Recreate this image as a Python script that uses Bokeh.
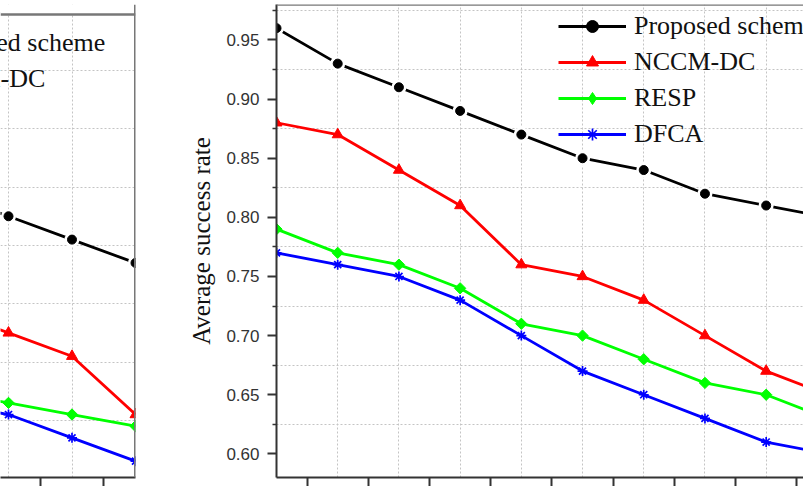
from bokeh.plotting import figure
from bokeh.layouts import row
from bokeh.models import (FixedTicker, Range1d, Span, Legend, LegendItem,
                          BoxAnnotation, CustomLabelingPolicy)
from bokeh.embed import file_html
from bokeh.resources import INLINE

# ---------------- data ----------------
# right panel
rounds = [1, 2, 3, 4, 5, 6, 7, 8, 9, 10]
proposed = [0.96, 0.93, 0.91, 0.89, 0.87, 0.85, 0.84, 0.82, 0.81, 0.80]
nccm_dc = [0.88, 0.87, 0.84, 0.81, 0.76, 0.75, 0.73, 0.70, 0.67, 0.65]
resp = [0.79, 0.77, 0.76, 0.74, 0.71, 0.70, 0.68, 0.66, 0.65, 0.63]
dfca = [0.77, 0.76, 0.75, 0.73, 0.70, 0.67, 0.65, 0.63, 0.61, 0.60]

# left panel (only its right end is visible)
left_rounds = [7, 8, 9, 10]
left_proposed = [0.82, 0.80, 0.78, 0.76]
left_nccm_dc = [0.72, 0.70, 0.68, 0.63]
left_resp = [0.65, 0.64, 0.63, 0.62]
left_dfca = [0.64, 0.63, 0.61, 0.59]

series_names = ["Proposed scheme", "NCCM-DC", "RESP", "DFCA"]
y_ticks = [0.60, 0.65, 0.70, 0.75, 0.80, 0.85, 0.90, 0.95]
y_tick_labels = ["0.60", "0.65", "0.70", "0.75", "0.80", "0.85", "0.90", "0.95"]
y_grid = [0.625, 0.675, 0.725, 0.775, 0.825, 0.875, 0.925, 0.975]
x_major = [1.5, 2.5, 3.5, 4.5, 5.5, 6.5, 7.5, 8.5, 9.5]
left_x_major = [7.5, 8.5, 9.5]

colors = ["#000000", "#ff0000", "#00ff00", "#0000ff"]
markers = ["circle", "triangle", "square", "asterisk"]
legend_markers = ["circle", "triangle", "diamond", "asterisk"]
msizes = [9, 11, 8, 10]
angles = [0, 0, 0.785398, 0]

SERIF = "Liberation Serif"
SANS = "Liberation Sans"
GRID_COLOR = "#c4c4c4"
AXIS_COLOR = "#333333"
BORDER_COLOR = "#777777"

NO_LABELS = CustomLabelingPolicy(code="""
try { for (const i of Array.from(indices)) { indices.unset(i) } } catch (e) {}
return indices
""")


def draw_series(p, xs, ys_list):
    items = []
    for i, ys in enumerate(ys_list):
        ln = p.line(xs, ys, line_color=colors[i], line_width=2.8)
        if i == 0:
            p.scatter(xs, ys, marker="circle", size=15, fill_color="white",
                      line_color=None)
        if markers[i] == "asterisk":
            sc = p.scatter(xs, ys, marker="asterisk", size=msizes[i],
                           line_color=colors[i], line_width=1.7)
        else:
            sc = p.scatter(xs, ys, marker=markers[i], size=msizes[i],
                           angle=angles[i], fill_color=colors[i],
                           line_color=colors[i], line_width=1)
        leg_r = sc
        if legend_markers[i] != markers[i]:
            leg_r = p.scatter(xs, ys, marker=legend_markers[i], size=msizes[i],
                              fill_color=colors[i], line_color=colors[i],
                              visible=False)
        items.append(LegendItem(label=series_names[i], renderers=[ln, leg_r]))
    return items


def add_legend(p, items, loc):
    lg = Legend(items=items, location=loc, padding=0, margin=0,
                border_line_color=None, background_fill_alpha=0,
                glyph_width=68, glyph_height=30, label_height=30, spacing=6,
                label_standoff=8, label_text_font=SERIF,
                label_text_font_size="26px", label_text_color="#111111",
                click_policy="none")
    p.add_layout(lg, "center")


def style_xaxis(p, majors):
    p.xaxis.ticker = FixedTicker(ticks=majors)
    p.xaxis.major_label_policy = NO_LABELS
    p.xaxis.major_label_text_font_size = "0px"
    p.xaxis.major_label_standoff = 0
    p.xaxis.major_tick_out = 9
    p.xaxis.major_tick_in = 0
    p.xaxis.minor_tick_line_color = None
    p.xaxis.axis_line_width = 2
    p.xaxis.axis_line_color = AXIS_COLOR
    p.xaxis.major_tick_line_width = 2
    p.xaxis.major_tick_line_color = AXIS_COLOR


def style_grid(p, xgrid_ticks):
    p.ygrid.ticker = FixedTicker(ticks=y_grid)
    p.xgrid.ticker = FixedTicker(ticks=xgrid_ticks)
    for g in (p.xgrid, p.ygrid):
        g.grid_line_color = GRID_COLOR
        g.grid_line_dash = "2 2"
        g.grid_line_width = 1


# ---------------- left panel ----------------
left_top = 0.973
left = figure(width=180, height=486, output_backend="svg", toolbar_location=None,
              x_range=Range1d(7.874, 10), y_range=Range1d(0.576, 0.9816),
              min_border_left=0, min_border_right=45, min_border_top=4,
              min_border_bottom=9)
left.outline_line_color = None
left.yaxis.visible = False
style_grid(left, left_rounds)
style_xaxis(left, left_x_major)
litems = draw_series(left, left_rounds, [left_proposed, left_nccm_dc, left_resp, left_dfca])
left.add_layout(BoxAnnotation(bottom=left_top, fill_color="white", fill_alpha=1,
                              line_color=None))
left.add_layout(Span(location=left_top, dimension="width", line_color=BORDER_COLOR, line_width=2.5))
left.add_layout(Span(location=10, dimension="height", line_color=BORDER_COLOR, line_width=3))
add_legend(left, litems, (-152, 311))

# ---------------- right panel ----------------
p = figure(width=623, height=486, output_backend="svg", toolbar_location=None,
           x_range=Range1d(1, 9.61), y_range=Range1d(0.58, 0.98),
           min_border_left=96, min_border_right=0, min_border_top=4,
           min_border_bottom=9)
p.outline_line_color = None
p.yaxis.ticker = FixedTicker(ticks=y_ticks, minor_ticks=y_grid)
p.yaxis.major_label_overrides = {t: s for t, s in zip(y_ticks, y_tick_labels)}
p.yaxis.major_label_text_font = SANS
p.yaxis.major_label_text_font_size = "17px"
p.yaxis.major_label_text_color = AXIS_COLOR
p.yaxis.major_label_standoff = 8
p.yaxis.major_tick_out = 9
p.yaxis.major_tick_in = 0
p.yaxis.minor_tick_out = 4
p.yaxis.minor_tick_in = 0
p.yaxis.axis_line_width = 2
p.yaxis.axis_line_color = AXIS_COLOR
p.yaxis.major_tick_line_width = 2
p.yaxis.major_tick_line_color = AXIS_COLOR
p.yaxis.minor_tick_line_width = 1.5
p.yaxis.minor_tick_line_color = AXIS_COLOR
p.yaxis.axis_label = "Average success rate"
p.yaxis.axis_label_text_font = SERIF
p.yaxis.axis_label_text_font_size = "25px"
p.yaxis.axis_label_text_font_style = "normal"
p.yaxis.axis_label_text_color = "#111111"
p.yaxis.axis_label_standoff = 8

style_xaxis(p, x_major)
style_grid(p, rounds)
p.add_layout(Span(location=0.98, dimension="width", line_color=BORDER_COLOR, line_width=2.5))

ritems = draw_series(p, rounds, [proposed, nccm_dc, resp, dfca])
add_legend(p, ritems, (282, 328))

layout = row(left, p, spacing=0)
open("out.html", "w").write(file_html(layout, INLINE))
